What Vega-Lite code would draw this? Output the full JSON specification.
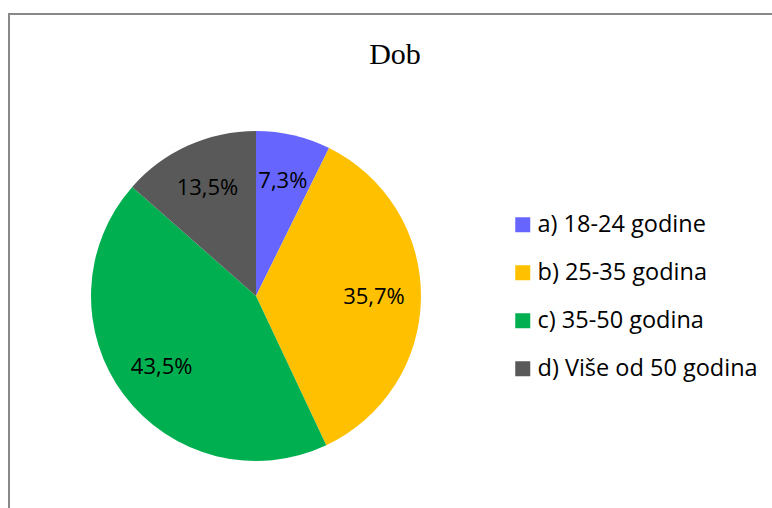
{
  "$schema": "https://vega.github.io/schema/vega-lite/v6.json",
  "autosize": "none",
  "width": 772,
  "height": 520,
  "padding": {"left": 9, "top": 14, "right": 0, "bottom": 0},
  "background": "white",
  "view": {"stroke": "#898989", "strokeWidth": 2},
  "config": {
    "view": {"stroke": "#898989", "strokeWidth": 2},
    "style": {"cell": {"stroke": "#898989", "strokeWidth": 2}}
  },
  "title": {
    "text": "Dob",
    "font": "Liberation Serif",
    "fontSize": 30,
    "fontWeight": "normal",
    "color": "#000000",
    "anchor": "middle",
    "baseline": "alphabetic",
    "offset": 0,
    "dy": 80
  },
  "data": {
    "values": [
      {"kategorija": "a) 18-24 godine", "udio": 7.3, "oznaka": "7,3%", "red": 1},
      {"kategorija": "b) 25-35 godina", "udio": 35.7, "oznaka": "35,7%", "red": 2},
      {"kategorija": "c) 35-50 godina", "udio": 43.5, "oznaka": "43,5%", "red": 3},
      {"kategorija": "d) Više od 50 godina", "udio": 13.5, "oznaka": "13,5%", "red": 4}
    ]
  },
  "encoding": {
    "theta": {"field": "udio", "type": "quantitative", "stack": true},
    "order": {"field": "red", "type": "quantitative"}
  },
  "layer": [
    {
      "mark": {"type": "arc", "radius": 165, "x": 247, "y": 282},
      "encoding": {
        "color": {
          "field": "kategorija",
          "type": "nominal",
          "scale": {
            "domain": ["a) 18-24 godine", "b) 25-35 godina", "c) 35-50 godina", "d) Više od 50 godina"],
            "range": ["#6666FF", "#FFC000", "#00B050", "#595959"]
          },
          "legend": {
            "title": null,
            "orient": "none",
            "legendX": 502,
            "legendY": 199,
            "symbolType": "square",
            "symbolSize": 225,
            "symbolStrokeWidth": 0,
            "labelFont": "Open Sans",
            "labelFontSize": 23.5,
            "labelColor": "#000000",
            "labelOffset": 3,
            "rowPadding": 23,
            "labelLimit": 400
          }
        }
      }
    },
    {
      "mark": {"type": "text", "radius": 118, "x": 247, "y": 282, "font": "Open Sans", "fontSize": 22, "color": "#000000"},
      "encoding": {
        "text": {"field": "oznaka", "type": "nominal"}
      }
    }
  ]
}
